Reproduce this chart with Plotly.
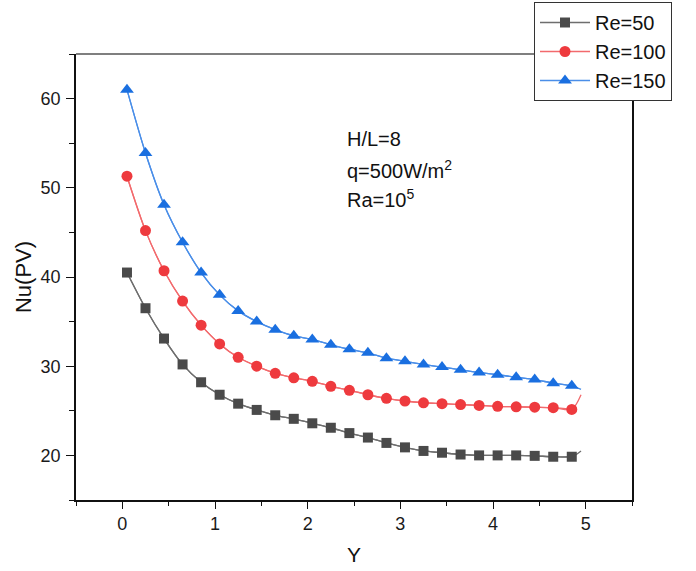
import plotly.graph_objects as go

# Positions along the wall (last point is the wall end, drawn as line only)
y_pos = [0.05, 0.25, 0.45, 0.65, 0.85, 1.05, 1.25, 1.45, 1.65, 1.85, 2.05, 2.25, 2.45,
         2.65, 2.85, 3.05, 3.25, 3.45, 3.65, 3.85, 4.05, 4.25, 4.45, 4.65, 4.85, 4.95]

nu_re50 = [40.5, 36.5, 33.1, 30.2, 28.2, 26.8, 25.8, 25.1, 24.5, 24.1, 23.6, 23.1, 22.5,
           22.0, 21.4, 20.9, 20.5, 20.3, 20.1, 20.0, 20.0, 20.0, 19.95, 19.85, 19.85, 20.5]
nu_re100 = [51.3, 45.2, 40.7, 37.3, 34.6, 32.5, 31.0, 30.0, 29.2, 28.7, 28.3, 27.75, 27.3,
            26.8, 26.4, 26.1, 25.9, 25.8, 25.7, 25.6, 25.5, 25.45, 25.4, 25.35, 25.15, 26.8]
nu_re150 = [61.0, 53.9, 48.1, 43.9, 40.5, 38.0, 36.2, 35.0, 34.1, 33.4, 33.0, 32.4, 31.9,
            31.5, 30.9, 30.55, 30.2, 29.9, 29.6, 29.3, 29.05, 28.75, 28.5, 28.1, 27.8, 27.4]

series_names = ["Re=50", "Re=100", "Re=150"]
marker_colors = ["#4a4a4a", "#ee3a3e", "#1a6fe0"]
line_colors = ["#6e6e6e", "#f26a6d", "#4a8ee8"]
symbols = ["square", "circle", "triangle-up"]
marker_sizes = [10, 11, 12]

x_ticks = [0, 1, 2, 3, 4, 5]
y_ticks = [20, 30, 40, 50, 60]

FONT = "Liberation Sans, Arial, sans-serif"

fig = go.Figure()
for name, vals, mc, lc, sym, ms in zip(series_names, [nu_re50, nu_re100, nu_re150],
                                       marker_colors, line_colors, symbols, marker_sizes):
    # full smoothed curve, including the wall end point
    fig.add_trace(go.Scatter(
        x=y_pos, y=vals, mode="lines",
        line=dict(color=lc, width=1.3, shape="spline", smoothing=0.8),
        showlegend=False, hoverinfo="skip"))
    # sampled points with markers
    fig.add_trace(go.Scatter(
        x=y_pos[:-1], y=vals[:-1], mode="lines+markers", name=name,
        line=dict(color=lc, width=1.3, shape="spline", smoothing=0.8),
        marker=dict(symbol=sym, size=ms, color=mc, line=dict(width=0))))

axis_common = dict(
    showgrid=False, zeroline=False, showline=True, linecolor="#111", linewidth=1.5,
    ticks="outside", tickwidth=1.3, tickcolor="#111",
    tickfont=dict(family=FONT, size=18, color="#1a1a1a"),
)

fig.update_xaxes(
    range=[-0.5, 5.5], tickvals=x_ticks, ticklen=7,
    minor=dict(dtick=0.5, tick0=0, ticks="outside", ticklen=4, tickwidth=1.3, tickcolor="#111"),
    title=dict(text="Y", font=dict(family=FONT, size=21, color="#111"), standoff=14),
    mirror=False, **axis_common)
fig.update_yaxes(
    range=[15, 65], tickvals=y_ticks, ticklen=8, ticklabelstandoff=2,
    minor=dict(dtick=5, tick0=0, ticks="outside", ticklen=5, tickwidth=1.3, tickcolor="#111"),
    title=dict(text="Nu(PV)", font=dict(family=FONT, size=22, color="#111"), standoff=3),
    mirror=True, **axis_common)

# top frame line
fig.add_shape(type="line", xref="paper", yref="paper", x0=0, x1=1, y0=1, y1=1,
              line=dict(color="#555", width=1.5))

ann_font = dict(family=FONT, size=20, color="#111")
for text, ypos in [("H/L=8", 0.810), ("q=500W/m<sup>2</sup>", 0.742), ("Ra=10<sup>5</sup>", 0.677)]:
    fig.add_annotation(text=text, xref="paper", yref="paper", x=0.484, y=ypos,
                       xanchor="left", yanchor="middle", showarrow=False, font=ann_font)

fig.update_layout(
    width=696, height=571,
    margin=dict(l=76, r=64, t=54, b=71, autoexpand=False),
    paper_bgcolor="white", plot_bgcolor="white",
    legend=dict(x=(534 - 76) / 556, y=(500 - 2) / 446, xanchor="left", yanchor="top",
                bgcolor="white", bordercolor="#333", borderwidth=1,
                font=dict(family=FONT, size=20, color="#111"),
                tracegroupgap=0, itemwidth=50),
)

fig.write_html("out.html")
